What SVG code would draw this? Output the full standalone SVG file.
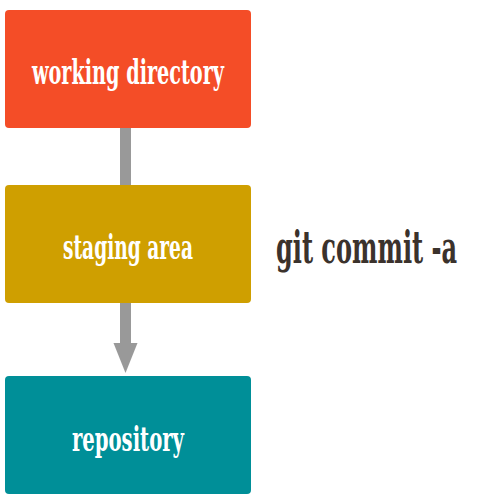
<svg xmlns="http://www.w3.org/2000/svg" width="500" height="500" viewBox="0 0 500 500">
<style>
.box{stroke:none}
.lbl{font-family:"DejaVu Serif","Liberation Serif",serif;font-weight:bold;font-stretch:condensed;fill:#fff;font-size:33px;text-anchor:middle}
.cmd{font-family:"DejaVu Serif","Liberation Serif",serif;font-weight:bold;font-stretch:condensed;fill:#3b322c;font-size:31px}
</style>
<rect width="500" height="500" fill="#fff"/>
<g id="connectors" fill="#999">
<rect x="120" y="125" width="11" height="63"/>
<rect x="120" y="300" width="11" height="45"/>
<polygon points="113.5,343 137.5,343 125.5,373"/>
</g>
<g id="working">
<rect class="box" x="5" y="10" width="246" height="118" rx="4" fill="#f44d27"/>
<text class="lbl" x="128" y="84" textLength="192" lengthAdjust="spacingAndGlyphs">working directory</text>
</g>
<g id="staging">
<rect class="box" x="5" y="185" width="246" height="118" rx="4" fill="#cf9f00"/>
<text class="lbl" x="128" y="259" textLength="130" lengthAdjust="spacingAndGlyphs">staging area</text>
</g>
<g id="repository">
<rect class="box" x="5" y="376" width="246" height="118" rx="4" fill="#008f98"/>
<text class="lbl" x="128" y="451" textLength="112" lengthAdjust="spacingAndGlyphs">repository</text>
</g>
<g id="command">
<text class="cmd" transform="translate(276,263) scale(1,1.42)" x="0" y="0" textLength="181" lengthAdjust="spacingAndGlyphs">git commit -a</text>
</g>
</svg>
